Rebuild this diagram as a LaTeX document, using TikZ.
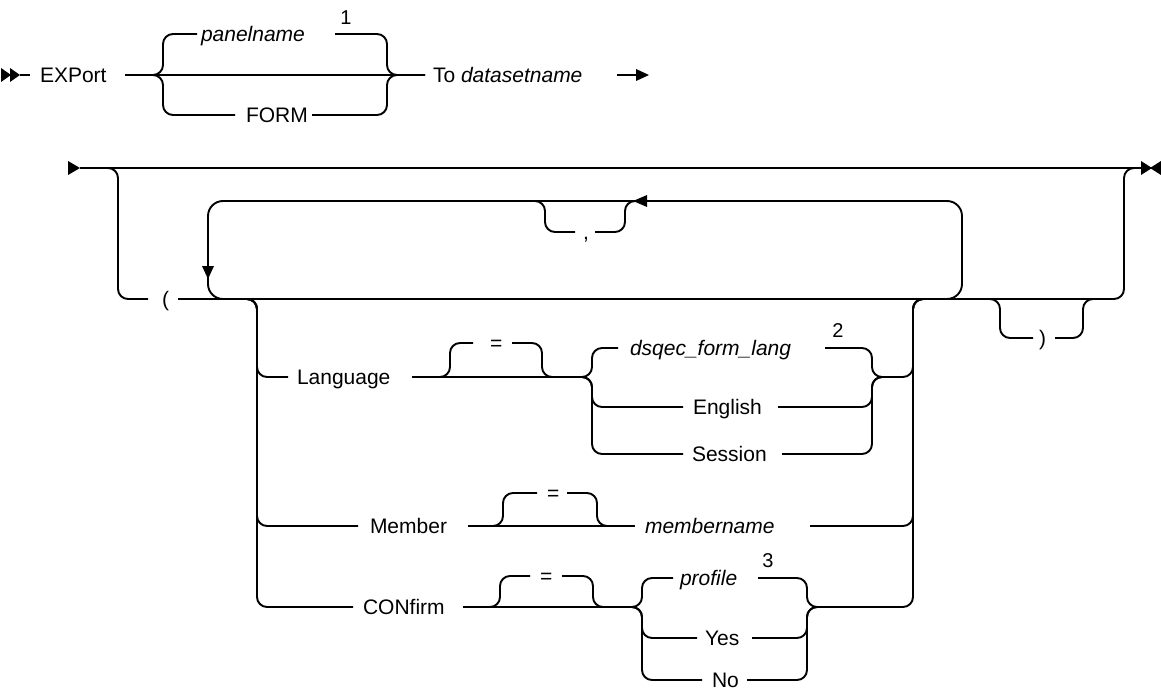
\documentclass[tikz,border=0pt]{standalone}
\usepackage{fontspec}
\setmainfont{Liberation Sans}
\usetikzlibrary{arrows.meta}
\newcommand\rrfont{\fontsize{21}{25}\selectfont}
\newcommand\rrnote{\fontsize{20}{22}\selectfont}
\newcommand\gb[3]{\makebox[#1pt][l]{\hspace{#2pt}#3}}
\tikzset{
  rr/.style={line width=1.9pt, rounded corners=10pt, line join=round},
  looprr/.style={rr, rounded corners=15pt},
  lab/.style={inner sep=0pt, outer sep=0pt, anchor=west, text height=17pt, text depth=2pt, font=\rrfont},
  note/.style={inner sep=0pt, font=\rrnote},
  tip/.style={fill=black},
}
\begin{document}
\begin{tikzpicture}[x=1pt,y=-1pt]
\useasboundingbox (0,0) rectangle (1161,690);

% ---------- row 1 ----------
\coordinate (s1) at (20,75);
\fill[tip] (1,68) -- (11,75) -- (1,82) -- cycle;
\fill[tip] (10,68) -- (20,75) -- (10,82) -- cycle;
\node[lab] (export) at (30,75) {\gb{95}{10}{EXPort}};
\node[lab] (panel) at (197,34) {\gb{138}{4}{\textit{panelname}}};
\node[note] (n1) at (346,18) {1};
\node[lab] (form) at (235,115) {\gb{77}{11}{FORM}};
\node[lab] (to) at (425,75) {\gb{187}{8}{To \textit{datasetname}}};
\coordinate (a1s) at (617,75);
\coordinate (a1e) at (637,75);

\draw[rr] (s1) -- (export.west);
\draw[rr] (export.east) -- (to.west);
\draw[rr] (export.east) -- (163,75) -- (163,34) -- (panel.west);
\draw[rr] (panel.east) -- (387,34) -- (387,75) -- (to.west);
\draw[rr] (export.east) -- (163,75) -- (163,115) -- (form.west);
\draw[rr] (form.east) -- (387,115) -- (387,75) -- (to.west);
\draw[line width=1.9pt] (a1s) -- (a1e);
\fill[tip] (636,69) -- (649,75) -- (636,81) -- cycle;

% ---------- row 2 ----------
\coordinate (s2) at (80,168);
\coordinate (e2) at (1142,168);
\fill[tip] (68,161) -- (80,168) -- (68,175) -- cycle;
\fill[tip] (1141,161) -- (1152,168) -- (1141,175) -- cycle;
\fill[tip] (1161,161) -- (1150,168) -- (1161,175) -- cycle;
\draw[rr] (s2) -- (e2);

\node[lab] (lp) at (148,299) {\gb{30}{14}{(}};
\draw[rr] (s2) -- (118,168) -- (118,299) -- (lp.west);
\draw[rr] (lp.east) -- (1124,299) -- (1124,168) -- (e2);

% repeat loop
\draw[looprr] (945,299) -- (962,299) -- (962,201) -- (208,201) -- (208,299) -- (230,299);
\fill[tip] (202,266) -- (214,266) -- (208,279) -- cycle;

\node[lab] (comma) at (575,232) {\gb{20}{8}{,}};
\draw[rr] (530,201) -- (545,201) -- (545,232) -- (comma.west);
\draw[rr] (comma.east) -- (625,232) -- (625,201) -- (640,201);
\fill[tip] (647,195) -- (633,201) -- (647,207) -- cycle;

% Language
\node[lab] (lang) at (288,377) {\gb{124}{9}{Language}};
\node[lab] (eq1) at (473,343) {\gb{39}{17}{=}};
\node[lab] (dsq) at (618,348) {\gb{207}{12}{\textit{dsqec\_form\_lang}}};
\node[note] (n2) at (838,331) {2};
\node[lab] (eng) at (683,407) {\gb{95}{10}{English}};
\node[lab] (ses) at (683,454) {\gb{99}{9}{Session}};
\draw[rr] (240,299) -- (257,299) -- (257,377) -- (lang.west);
\draw[rr] (lang.east) -- (450,377) -- (450,343) -- (eq1.west);
\draw[rr] (eq1.east) -- (542,343) -- (542,377) -- (560,377);
\draw[rr] (lang.east) -- (592,377) -- (592,348) -- (dsq.west);
\draw[rr] (lang.east) -- (592,377) -- (592,407) -- (eng.west);
\draw[rr] (lang.east) -- (592,377) -- (592,454) -- (ses.west);
\draw[rr] (dsq.east) -- (872,348) -- (872,377) -- (913,377) -- (913,299) -- (930,299);
\draw[rr] (eng.east) -- (872,407) -- (872,377) -- (890,377);
\draw[rr] (ses.east) -- (872,454) -- (872,377) -- (890,377);

% Member
\node[lab] (mem) at (358,526) {\gb{110}{12}{Member}};
\node[lab] (eq2) at (537,493) {\gb{30}{10}{=}};
\node[lab] (mname) at (635,526) {\gb{175}{10}{\textit{membername}}};
\draw[rr] (240,299) -- (257,299) -- (257,526) -- (mem.west);
\draw[rr] (mem.east) -- (mname.west);
\draw[rr] (mem.east) -- (503,526) -- (503,493) -- (eq2.west);
\draw[rr] (eq2.east) -- (597,493) -- (597,526) -- (615,526);
\draw[rr] (mname.east) -- (913,526) -- (913,299) -- (930,299);

% CONfirm
\node[lab] (conf) at (353,607) {\gb{110}{10}{CONfirm}};
\node[lab] (eq3) at (530,576) {\gb{32}{10}{=}};
\node[lab] (prof) at (673,578) {\gb{85}{7}{\textit{profile}}};
\node[note] (n3) at (768,561) {3};
\node[lab] (yes) at (697,638) {\gb{55}{8}{Yes}};
\node[lab] (no) at (702,680) {\gb{45}{10}{No}};
\draw[rr] (240,299) -- (257,299) -- (257,607) -- (conf.west);
\draw[rr] (conf.east) -- (500,607) -- (500,576) -- (eq3.west);
\draw[rr] (eq3.east) -- (593,576) -- (593,607) -- (610,607);
\draw[rr] (conf.east) -- (642,607) -- (642,578) -- (prof.west);
\draw[rr] (conf.east) -- (642,607) -- (642,638) -- (yes.west);
\draw[rr] (conf.east) -- (642,607) -- (642,680) -- (no.west);
\draw[rr] (prof.east) -- (807,578) -- (807,607) -- (913,607) -- (913,299) -- (930,299);
\draw[rr] (yes.east) -- (807,638) -- (807,607) -- (830,607);
\draw[rr] (no.east) -- (807,680) -- (807,607) -- (830,607);

% closing paren
\node[lab] (rp) at (1033,338) {\gb{22}{6}{)}};
\draw[rr] (985,299) -- (1000,299) -- (1000,338) -- (rp.west);
\draw[rr] (rp.east) -- (1083,338) -- (1083,299) -- (1100,299);
\end{tikzpicture}
\end{document}
